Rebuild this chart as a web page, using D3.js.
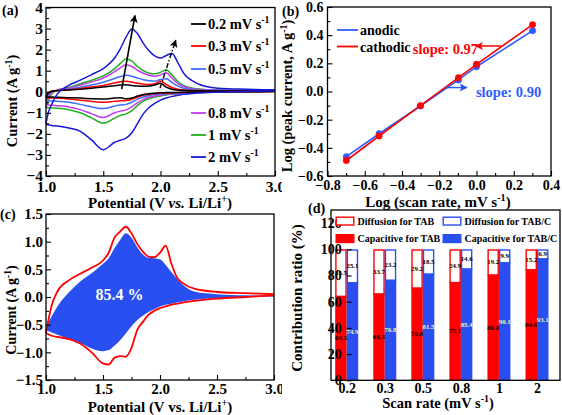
<!DOCTYPE html>
<html><head><meta charset="utf-8">
<script src="https://cdn.jsdelivr.net/npm/d3@7"></script>
<style>
body{margin:0;background:#fff}
svg text{font-family:'Liberation Serif','Times New Roman','DejaVu Serif',serif !important;font-weight:bold;fill:#000}
</style></head>
<body><svg id="chart" width="562" height="415" font-family="Liberation Serif, serif"></svg>
<script>
// ---------- Panel (a) data: CV curves ----------
const potA = [1.0,1.02,1.05,1.1,1.2,1.3,1.4,1.5,1.6,1.65,1.7,1.75,1.8,1.85,1.9,1.95,2.0,2.05,2.1,2.15,2.2,2.3,2.4,2.5,2.75,3.0];
const rateNames = ["0.2","0.3","0.5","0.8","1","2"];
const anodic02 = [-0.25,-0.05,0.02,0.05,0.08,0.12,0.17,0.22,0.29,0.32,0.33,0.3,0.27,0.26,0.27,0.32,0.4,0.22,0.12,0.08,0.06,0.05,0.04,0.04,0.03,0.03];
const cathodic02 = [-0.25,-0.25,-0.25,-0.26,-0.28,-0.3,-0.33,-0.35,-0.3,-0.28,-0.33,-0.3,-0.2,-0.13,-0.09,-0.07,-0.05,-0.04,-0.03,-0.03,-0.02,-0.01,-0.01,0.0,0.0,0.01];
const anodic03 = [-0.3,-0.08,0.02,0.06,0.1,0.16,0.23,0.3,0.42,0.48,0.5,0.46,0.4,0.36,0.35,0.38,0.5,0.35,0.2,0.12,0.08,0.06,0.05,0.04,0.04,0.04];
const cathodic03 = [-0.3,-0.3,-0.3,-0.31,-0.34,-0.4,-0.46,-0.5,-0.45,-0.43,-0.42,-0.36,-0.25,-0.17,-0.12,-0.09,-0.07,-0.06,-0.05,-0.04,-0.03,-0.02,-0.01,0.0,0.0,0.01];
const anodic05 = [-0.42,-0.15,0.0,0.07,0.13,0.22,0.32,0.45,0.63,0.72,0.78,0.74,0.65,0.57,0.52,0.5,0.58,0.62,0.45,0.28,0.17,0.1,0.07,0.06,0.05,0.05];
const cathodic05 = [-0.42,-0.43,-0.44,-0.45,-0.5,-0.6,-0.72,-0.8,-0.68,-0.63,-0.6,-0.5,-0.35,-0.25,-0.18,-0.14,-0.11,-0.09,-0.07,-0.06,-0.05,-0.03,-0.02,-0.01,0.0,0.02];
const anodic08 = [-0.62,-0.3,-0.05,0.08,0.17,0.32,0.47,0.65,0.95,1.15,1.28,1.2,1.02,0.88,0.78,0.74,0.8,0.9,0.65,0.4,0.25,0.13,0.09,0.07,0.05,0.05];
const cathodic08 = [-0.62,-0.63,-0.64,-0.66,-0.72,-0.85,-1.05,-1.22,-1.0,-0.92,-0.86,-0.72,-0.52,-0.36,-0.26,-0.2,-0.16,-0.12,-0.1,-0.08,-0.06,-0.04,-0.02,-0.01,0.0,0.02];
const anodic1 = [-0.75,-0.4,-0.1,0.08,0.2,0.38,0.55,0.75,1.1,1.35,1.55,1.45,1.2,1.0,0.88,0.85,0.92,1.05,0.8,0.5,0.3,0.15,0.1,0.08,0.06,0.06];
const cathodic1 = [-0.75,-0.76,-0.77,-0.78,-0.85,-1.0,-1.25,-1.5,-1.25,-1.12,-1.05,-0.9,-0.65,-0.45,-0.32,-0.25,-0.2,-0.15,-0.12,-0.1,-0.08,-0.05,-0.03,-0.02,0.0,0.02];
const anodic2 = [-1.5,-1.0,-0.6,-0.1,0.3,0.55,0.82,1.1,1.6,2.05,2.6,2.98,2.75,2.3,1.95,1.7,1.6,1.72,1.82,1.4,0.9,0.45,0.25,0.17,0.12,0.1];
const cathodic2 = [-1.55,-1.57,-1.6,-1.63,-1.72,-1.88,-2.3,-2.75,-2.4,-2.3,-2.2,-1.95,-1.5,-1.05,-0.75,-0.55,-0.4,-0.3,-0.22,-0.17,-0.12,-0.07,-0.04,-0.02,0.02,0.05];
const cvColors = ["#000000","#ff0000","#3f6cff","#c43cf0","#1fae1f","#1818d8"];

// ---------- Panel (b) data ----------
const logRate = [-0.699,-0.523,-0.301,-0.097,0.0,0.301];
const logIanodic = [-0.463,-0.300,-0.103,0.082,0.176,0.432];
const logIcathodic = [-0.490,-0.316,-0.100,0.098,0.193,0.475];

// ---------- Panel (c) data ----------
const potC = [1.0,1.05,1.1,1.2,1.3,1.4,1.5,1.55,1.6,1.65,1.7,1.75,1.8,1.85,1.9,1.95,2.0,2.05,2.1,2.15,2.2,2.3,2.5,2.75,3.0];
const totalAnodicC = [-0.65,-0.15,0.1,0.3,0.42,0.53,0.66,0.8,1.07,1.18,1.27,1.15,0.96,0.82,0.73,0.72,0.8,0.93,0.6,0.35,0.25,0.15,0.09,0.07,0.05];
const totalCathodicC = [-0.65,-0.7,-0.72,-0.76,-0.84,-1.0,-1.2,-1.22,-1.1,-1.07,-1.08,-0.92,-0.6,-0.45,-0.32,-0.25,-0.2,-0.17,-0.14,-0.12,-0.1,-0.07,-0.03,0.0,0.03];
const capUpperC = [-0.55,-0.35,-0.17,0.08,0.28,0.43,0.6,0.7,0.88,1.03,1.15,1.07,0.9,0.77,0.71,0.7,0.68,0.58,0.45,0.33,0.22,0.1,0.05,0.03,0.02];
const capLowerC = [-0.6,-0.64,-0.68,-0.75,-0.83,-0.93,-0.98,-0.96,-0.88,-0.78,-0.66,-0.53,-0.42,-0.34,-0.27,-0.22,-0.17,-0.14,-0.12,-0.1,-0.08,-0.05,-0.02,0.0,0.01];

// ---------- Panel (d) data ----------
const scanRates = ["0.2","0.3","0.5","0.8","1","2"];
const capTAB = [64.5,66.3,70.8,75.1,80.8,84.8];
const diffTAB = [35.5,33.7,29.2,24.9,19.2,15.2];
const capTABC = [74.9,76.8,81.5,85.4,90.1,93.1];
const diffTABC = [25.1,23.2,18.5,14.6,9.9,6.9];

const RED = "#ff0000", BLUE = "#2a4ff0";
const svg = d3.select("#chart");
const defs = svg.append("defs");
function marker(id, color, w, h){
  defs.append("marker").attr("id", id).attr("viewBox","0 0 10 10").attr("refX",9).attr("refY",5)
    .attr("markerWidth",w).attr("markerHeight",h).attr("markerUnits","userSpaceOnUse").attr("orient","auto")
    .append("path").attr("d","M0,0 L10,5 L0,10 L2.5,5 Z").attr("fill",color);
}
marker("arrK","#000",9,8); marker("arrR",RED,9,8); marker("arrB",BLUE,9,8);
defs.append("clipPath").attr("id","clipL").append("rect").attr("x",0).attr("y",0).attr("width",282).attr("height",415);

function rich(sel, parts, fs){
  let prevSup = false;
  parts.forEach(p => {
    const t = sel.append("tspan").text(p.t);
    let dy = 0;
    if (p.sup) { t.attr("font-size", fs*0.68); dy -= fs*0.38; }
    if (prevSup) dy += fs*0.38;
    if (dy) t.attr("dy", dy);
    if (p.it) t.attr("font-style","italic");
    prevSup = !!p.sup;
  });
  return sel;
}
function axes(g, x, y, o){
  const xa = g.append("g").attr("transform",`translate(0,${y.range()[0]})`)
    .call(d3.axisBottom(x).tickValues(o.xt).tickSize(o.noXTicks?0:-5).tickSizeOuter(0).tickPadding(o.xp).tickFormat(o.xf));
  const ya = g.append("g").attr("transform",`translate(${x.range()[0]},0)`)
    .call(d3.axisLeft(y).tickValues(o.yt).tickSize(-5).tickSizeOuter(0).tickPadding(o.yp).tickFormat(o.yf));
  if (o.xm) g.append("g").attr("transform",`translate(0,${y.range()[0]})`)
    .call(d3.axisBottom(x).tickValues(o.xm).tickSize(-3).tickSizeOuter(0).tickFormat(""));
  if (o.ym) g.append("g").attr("transform",`translate(${x.range()[0]},0)`)
    .call(d3.axisLeft(y).tickValues(o.ym).tickSize(-3).tickSizeOuter(0).tickFormat(""));
  g.selectAll(".domain").remove();
  g.selectAll("g").attr("font-family",null);
  g.selectAll(".tick line").attr("stroke","#000").attr("stroke-width",1.1);
  xa.selectAll("text").attr("font-size",o.fs).attr("fill","#000");
  ya.selectAll("text").attr("font-size",o.fs).attr("fill","#000");
  const [x0,x1] = o.fx || x.range(); const [y0,y1] = y.range();
  g.append("rect").attr("x",x0).attr("y",y1).attr("width",x1-x0).attr("height",y0-y1)
    .attr("fill","none").attr("stroke","#000").attr("stroke-width",1.3);
}
const f1 = d3.format(".1f");

// ================= Panel (a) =================
const gA = svg.append("g").attr("clip-path","url(#clipL)");
const xA = d3.scaleLinear().domain([1,3]).range([46,275]);
const yA = d3.scaleLinear().domain([-4,4]).range([176,7.5]);
const anodicList = [anodic02,anodic03,anodic05,anodic08,anodic1,anodic2];
const cathodicList = [cathodic02,cathodic03,cathodic05,cathodic08,cathodic1,cathodic2];
const lineA = d3.line().x(d=>xA(d[0])).y(d=>yA(d[1])).curve(d3.curveMonotoneX);
[4,3,2,1,0,5].forEach(i => {
  [anodicList[i], cathodicList[i]].forEach(arr => {
    gA.append("path").attr("d", lineA(potA.map((v,k)=>[v,arr[k]])))
      .attr("fill","none").attr("stroke",cvColors[i]).attr("stroke-width",1.5);
  });
});
const arrowSolid = [[1.661,0.12],[1.777,3.62]];
const arrowDash = [[1.996,0.18],[2.133,2.45]];
gA.append("line").attr("x1",xA(arrowSolid[0][0])).attr("y1",yA(arrowSolid[0][1]))
  .attr("x2",xA(arrowSolid[1][0])).attr("y2",yA(arrowSolid[1][1]))
  .attr("stroke","#000").attr("stroke-width",1.6).attr("marker-end","url(#arrK)");
gA.append("line").attr("x1",xA(arrowDash[0][0])).attr("y1",yA(arrowDash[0][1]))
  .attr("x2",xA(arrowDash[1][0])).attr("y2",yA(arrowDash[1][1]))
  .attr("stroke","#000").attr("stroke-width",1.4).attr("stroke-dasharray","5,2,1.5,2").attr("marker-end","url(#arrK)");
axes(gA, xA, yA, {xt:[1,1.5,2,2.5,3], xm:[1.25,1.75,2.25,2.75], yt:[-4,-3,-2,-1,0,1,2,3,4],
  ym:[-3.5,-2.5,-1.5,-0.5,0.5,1.5,2.5,3.5], xf:f1, yf:d3.format("d"), xp:5, yp:3, fs:15.5});
const legY = [24,46,69,113,135,157];
rateNames.forEach((r,i)=>{
  gA.append("line").attr("x1",191).attr("x2",206).attr("y1",legY[i]).attr("y2",legY[i])
    .attr("stroke",cvColors[i]).attr("stroke-width",1.8);
  rich(gA.append("text").attr("x",208).attr("y",legY[i]+5).attr("font-size",14.5),
    [{t:r+" mV s"},{t:"-1",sup:true}],14.5);
});
gA.append("text").attr("x",2).attr("y",15).attr("font-size",14).text("(a)");
rich(gA.append("text").attr("x",160).attr("y",208).attr("font-size",15).attr("text-anchor","middle"),
  [{t:"Potential (V "},{t:"vs.",it:true},{t:" Li/Li"},{t:"+",sup:true},{t:")"}],15);
rich(gA.append("text").attr("transform","translate(17,101) rotate(-90)").attr("font-size",14.5).attr("text-anchor","middle"),
  [{t:"Current (A g"},{t:"-1",sup:true},{t:")"}],14.5);

// ================= Panel (b) =================
const gB = svg.append("g");
const xB = d3.scaleLinear().domain([-0.8,0.4]).range([327.5,551]);
const yB = d3.scaleLinear().domain([-0.6,0.6]).range([176,7]);
const lineB = d3.line().x(d=>xB(d[0])).y(d=>yB(d[1]));
[[logIanodic,"#2f5cff"],[logIcathodic,RED]].forEach(([arr,col])=>{
  const pts = logRate.map((v,k)=>[v,arr[k]]);
  gB.append("path").attr("d",lineB(pts)).attr("fill","none").attr("stroke",col).attr("stroke-width",1.6);
  gB.selectAll(null).data(pts).enter().append("circle").attr("cx",d=>xB(d[0])).attr("cy",d=>yB(d[1]))
    .attr("r",3.2).attr("fill",col).attr("stroke",col).attr("stroke-width",0.5);
});
axes(gB, xB, yB, {xt:[-0.8,-0.6,-0.4,-0.2,0,0.2,0.4], xm:[-0.7,-0.5,-0.3,-0.1,0.1,0.3],
  yt:[-0.6,-0.4,-0.2,0,0.2,0.4,0.6], ym:[-0.5,-0.3,-0.1,0.1,0.3,0.5], xf:f1, yf:f1, xp:4, yp:4, fs:14});
[["anodic","#2f5cff",30],["cathodic",RED,46.5]].forEach(([t,c,y])=>{
  gB.append("line").attr("x1",337).attr("x2",358).attr("y1",y).attr("y2",y).attr("stroke",c).attr("stroke-width",1.8);
  gB.append("text").attr("x",360).attr("y",y+5).attr("font-size",14).text(t);
});
gB.append("text").attr("x",xB(-0.342)).attr("y",yB(0.268)).attr("font-size",14.5).style("fill",RED).text("slope: 0.97");
gB.append("line").attr("x1",xB(0.132)).attr("y1",yB(0.323)).attr("x2",xB(-0.004)).attr("y2",yB(0.323))
  .attr("stroke",RED).attr("stroke-width",1.5).attr("marker-end","url(#arrR)");
gB.append("text").attr("x",xB(-0.003)).attr("y",yB(-0.036)).attr("font-size",14.5).style("fill","#2f5cff").text("slope: 0.90");
gB.append("line").attr("x1",xB(-0.164)).attr("y1",yB(0.028)).attr("x2",xB(-0.052)).attr("y2",yB(0.028))
  .attr("stroke","#2f5cff").attr("stroke-width",1.5).attr("marker-end","url(#arrB)");
gB.append("text").attr("x",282).attr("y",16).attr("font-size",14).text("(b)");
rich(gB.append("text").attr("x",438).attr("y",207).attr("font-size",15).attr("text-anchor","middle"),
  [{t:"Log (scan rate, mV s"},{t:"-1",sup:true},{t:")"}],15);
rich(gB.append("text").attr("transform","translate(292,96) rotate(-90)").attr("font-size",14.5).attr("text-anchor","middle"),
  [{t:"Log (peak current, A g"},{t:"-1",sup:true},{t:")"}],14.5);

// ================= Panel (c) =================
const gC = svg.append("g").attr("clip-path","url(#clipL)");
const xC = d3.scaleLinear().domain([1,3]).range([46,274]);
const yC = d3.scaleLinear().domain([-1.5,1.5]).range([380,214]);
const areaC = d3.area().x(d=>xC(d[0])).y0(d=>yC(d[1])).y1(d=>yC(d[2])).curve(d3.curveMonotoneX);
gC.append("path").attr("d",areaC(potC.map((v,k)=>[v,capLowerC[k],capUpperC[k]]))).attr("fill",BLUE);
const lineC = d3.line().x(d=>xC(d[0])).y(d=>yC(d[1])).curve(d3.curveMonotoneX);
[totalAnodicC,totalCathodicC].forEach(arr=>{
  gC.append("path").attr("d",lineC(potC.map((v,k)=>[v,arr[k]]))).attr("fill","none").attr("stroke",RED).attr("stroke-width",1.8);
});
axes(gC, xC, yC, {xt:[1,1.5,2,2.5,3], xm:[1.25,1.75,2.25,2.75], yt:[-1.5,-1,-0.5,0,0.5,1,1.5],
  ym:[-1.25,-0.75,-0.25,0.25,0.75,1.25], xf:f1, yf:f1, xp:3, yp:3, fs:15});
gC.append("text").attr("x",xC(1.645)).attr("y",yC(-0.05)).attr("font-size",16).attr("text-anchor","middle").style("fill","#fff").text("85.4 %");
gC.append("text").attr("x",0).attr("y",219).attr("font-size",14).text("(c)");
rich(gC.append("text").attr("x",160).attr("y",412).attr("font-size",15).attr("text-anchor","middle"),
  [{t:"Potential (V vs. Li/Li"},{t:"+",sup:true},{t:")"}],15);
rich(gC.append("text").attr("transform","translate(16,310) rotate(-90)").attr("font-size",14).attr("text-anchor","middle"),
  [{t:"Current (A g"},{t:"-1",sup:true},{t:")"}],14);

// ================= Panel (d) =================
const gD = svg.append("g");
const xD = d3.scalePoint().domain(scanRates).range([346.7,537]);
const yD = d3.scaleLinear().domain([0,130]).range([380.3,210]);
const bw = 11.5;
const series = [
  {cap:capTAB, diff:diffTAB, col:RED, off:-bw, capTxt:"#000"},
  {cap:capTABC, diff:diffTABC, col:BLUE, off:0, capTxt:"#f4f0b0"}
];
series.forEach(s=>{
  scanRates.forEach((r,i)=>{
    const x0 = xD(r)+s.off;
    gD.append("rect").attr("x",x0+0.7).attr("width",bw-1.4).attr("y",yD(100)+0.7).attr("height",yD(s.cap[i])-yD(100))
      .attr("fill","#fff").attr("stroke",s.col).attr("stroke-width",1.4);
    gD.append("rect").attr("x",x0).attr("width",bw).attr("y",yD(s.cap[i])).attr("height",yD(0)-yD(s.cap[i]))
      .attr("fill",s.col);
  });
});
series.forEach(s=>{
  scanRates.forEach((r,i)=>{
    const xc = xD(r)+s.off+bw/2;
    gD.append("text").attr("x",xc).attr("y",yD(s.cap[i]/2)+2.3).attr("font-size",6.8).attr("text-anchor","middle")
      .style("fill",s.capTxt).text(s.cap[i].toFixed(1));
    gD.append("text").attr("x",xc).attr("y",yD(s.cap[i]+s.diff[i]/2)+2.3).attr("font-size",6.8).attr("text-anchor","middle")
      .text(s.diff[i].toFixed(1));
  });
});
axes(gD, xD, yD, {xt:scanRates, yt:[0,20,40,60,80,100,120], xf:d=>d, yf:d3.format("d"), xp:3, yp:5, fs:14, fx:[331,560], noXTicks:true});
const legD = [
  {t:"Diffusion for TAB", c:RED, fill:false, x:335.5, y:216.5},
  {t:"Diffusion for TAB/C", c:BLUE, fill:false, x:442.5, y:216.5},
  {t:"Capacitive for TAB", c:RED, fill:true, x:335.5, y:234},
  {t:"Capacitive for TAB/C", c:BLUE, fill:true, x:442.5, y:234}
];
legD.forEach(l=>{
  gD.append("rect").attr("x",l.x+0.7).attr("y",l.y+0.7).attr("width",17.6).attr("height",7.8)
    .attr("fill",l.fill?l.c:"#fff").attr("stroke",l.c).attr("stroke-width",1.4);
  gD.append("text").attr("x",l.x+22).attr("y",l.y+8).attr("font-size",10).text(l.t);
});
gD.append("text").attr("x",308).attr("y",213).attr("font-size",14).text("(d)");
rich(gD.append("text").attr("x",438).attr("y",408).attr("font-size",14.5).attr("text-anchor","middle"),
  [{t:"Scan rate (mV s"},{t:"-1",sup:true},{t:")"}],14.5);
gD.append("text").attr("transform","translate(302,298) rotate(-90)").attr("font-size",15).attr("text-anchor","middle").text("Contribution ratio (%)");
</script></body></html>
